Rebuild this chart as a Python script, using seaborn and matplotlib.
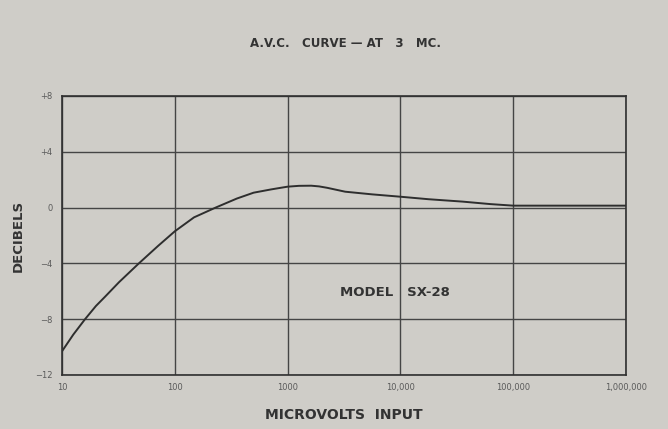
import numpy as np
import pandas as pd
import matplotlib
matplotlib.use("Agg")
import matplotlib.pyplot as plt
import seaborn as sns

# values (microvolts, decibels)
microvolts = [10, 12.6, 16, 20, 24, 32, 48, 71, 100, 148, 230, 355, 500, 710,
              870, 1000, 1260, 1620, 1900, 2240, 3240, 5600, 10000, 17800,
              35500, 63000, 100000, 1000000]
decibels = [-10.3, -9.1, -8.0, -7.05, -6.4, -5.35, -4.0, -2.75, -1.7, -0.7, 0.0,
            0.65, 1.07, 1.3, 1.42, 1.5, 1.56, 1.57, 1.52, 1.42, 1.14, 0.95,
            0.78, 0.6, 0.43, 0.25, 0.14, 0.14]

x_ticks = [10, 100, 1000, 10000, 100000, 1000000]
x_labels = ["10", "100", "1000", "10,000", "100,000", "1,000,000"]
y_ticks = [-12, -8, -4, 0, 4, 8]
y_labels = ["\u221212", "\u22128", "\u22124", "0", "+4", "+8"]

df = pd.DataFrame({"uv": microvolts, "db": decibels})

paper = "#cfcdc8"
ink = "#333333"

sns.set_style("white")
plt.rcParams["font.family"] = ["DejaVu Sans"]

fig = plt.figure(figsize=(6.68, 4.29), dpi=100, facecolor=paper)
ax = fig.add_axes([62 / 668, 54 / 429, 564 / 668, 279 / 429])
ax.set_facecolor(paper)

sns.lineplot(data=df, x="uv", y="db", ax=ax, color="#2e2e2e", linewidth=1.4)

ax.set_xscale("log")
ax.set_xlim(10, 1000000)
ax.set_ylim(-12, 8)
ax.set_xticks(x_ticks)
ax.set_xticklabels(x_labels)
ax.set_yticks(y_ticks)
ax.set_yticklabels(y_labels)
ax.minorticks_off()
ax.tick_params(axis="both", length=0, labelsize=6, colors="#5a5a5a")
ax.tick_params(axis="x", pad=6)
ax.tick_params(axis="y", pad=7)
ax.grid(True, color="#454545", linewidth=1.0)
for s in ax.spines.values():
    s.set_visible(True)
    s.set_color("#303030")
    s.set_linewidth(1.2)

ax.set_xlabel("MICROVOLTS  INPUT", fontsize=10, fontweight="bold", color=ink)
ax.set_ylabel("DECIBELS", fontsize=9.5, fontweight="bold", color=ink)
ax.xaxis.set_label_coords(0.5, -0.118)
ax.yaxis.set_label_coords(-0.066, 0.5)
fig.text(0.517, 0.898, "A.V.C.   CURVE \u2014 AT   3   MC.", ha="center", va="center",
         fontsize=8.5, fontweight="bold", color=ink)
ax.text(9000, -6.1, "MODEL   SX-28", ha="center", va="center", fontsize=9.5,
        fontweight="bold", color=ink)

fig.savefig("out.png", dpi=100, facecolor=paper)
